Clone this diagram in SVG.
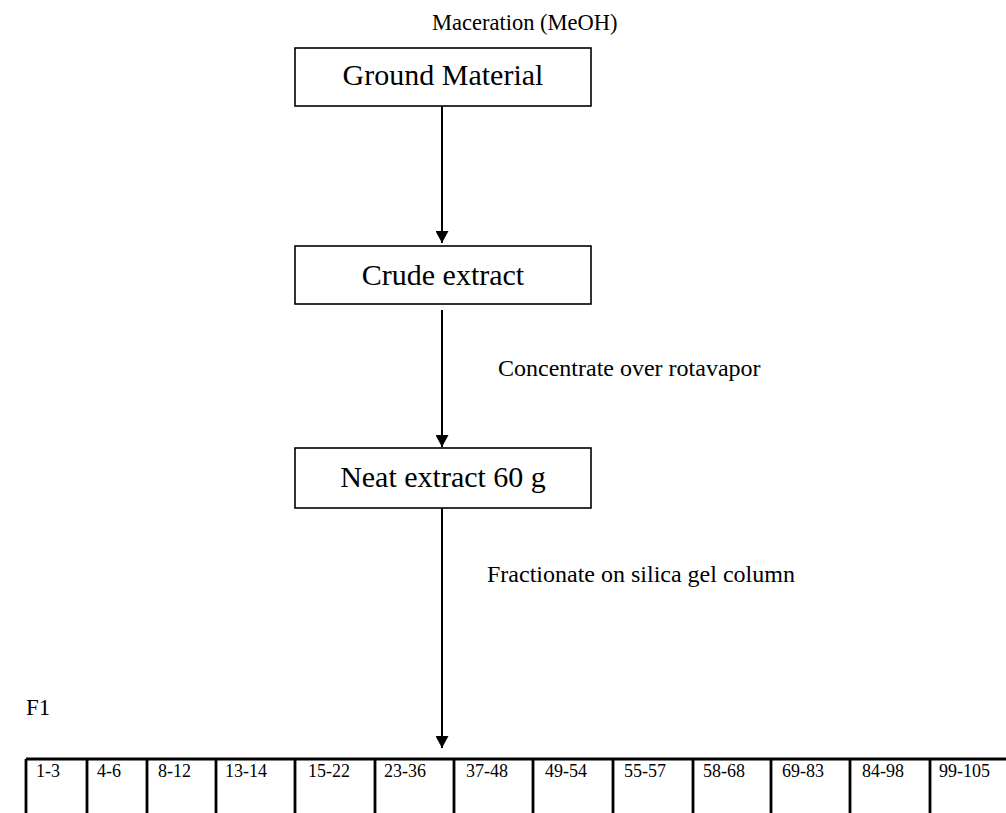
<svg xmlns="http://www.w3.org/2000/svg" width="1006" height="813" viewBox="0 0 1006 813">
<defs>
<style>
.t{font-family:"Liberation Serif","Times New Roman",serif;fill:#000}
.big{font-size:30px}
.mid{font-size:24px}
.sm{font-size:18px}
.box{fill:#fff;stroke:#000;stroke-width:1.6}
.ln{stroke:#000;stroke-width:2;fill:none}
.tb{stroke:#000;stroke-width:2.8;fill:none}
</style>
<marker id="ah" viewBox="0 0 12 13" refX="12" refY="6.5" markerWidth="12" markerHeight="13" markerUnits="userSpaceOnUse" orient="auto">
<path d="M0,0 L12,6.5 L0,13 Z" fill="#000"/>
</marker>
</defs>
<rect width="1006" height="813" fill="#fff"/>
<text class="t" x="432" y="30" font-size="22.5">Maceration (MeOH)</text>
<g id="ground">
<rect class="box" x="295" y="48" width="296" height="58"/>
<text class="t big" x="443" y="85" text-anchor="middle">Ground Material</text>
</g>
<g id="crude">
<rect class="box" x="295" y="246" width="296" height="58"/>
<text class="t big" x="443" y="285" text-anchor="middle">Crude extract</text>
</g>
<g id="neat">
<rect class="box" x="295" y="448" width="296" height="60"/>
<text class="t big" x="443" y="487" text-anchor="middle">Neat extract 60 g</text>
</g>
<g id="connectors">
<line class="ln" x1="442" y1="106" x2="442" y2="243" marker-end="url(#ah)"/>
<line class="ln" x1="442" y1="310" x2="442" y2="447" marker-end="url(#ah)"/>
<line class="ln" x1="442" y1="508" x2="442" y2="748" marker-end="url(#ah)"/>
</g>
<text class="t mid" x="498" y="376">Concentrate over rotavapor</text>
<text class="t mid" x="487" y="582">Fractionate on silica gel column</text>
<text class="t" x="26" y="715" font-size="23">F1</text>
<g id="fractions">
<line class="tb" x1="26" y1="759" x2="1006" y2="759"/>
<path class="tb" d="M26,759V813M87,759V813M147,759V813M216,759V813M295,759V813M375,759V813M454,759V813M533,759V813M613,759V813M693,759V813M771,759V813M850,759V813M930,759V813"/>
<g class="t sm">
<text x="36" y="777">1-3</text>
<text x="97" y="777">4-6</text>
<text x="158" y="777">8-12</text>
<text x="225" y="777">13-14</text>
<text x="308" y="777">15-22</text>
<text x="384" y="777">23-36</text>
<text x="466" y="777">37-48</text>
<text x="545" y="777">49-54</text>
<text x="624" y="777">55-57</text>
<text x="703" y="777">58-68</text>
<text x="782" y="777">69-83</text>
<text x="862" y="777">84-98</text>
<text x="939" y="777">99-105</text>
</g>
</g>
</svg>
